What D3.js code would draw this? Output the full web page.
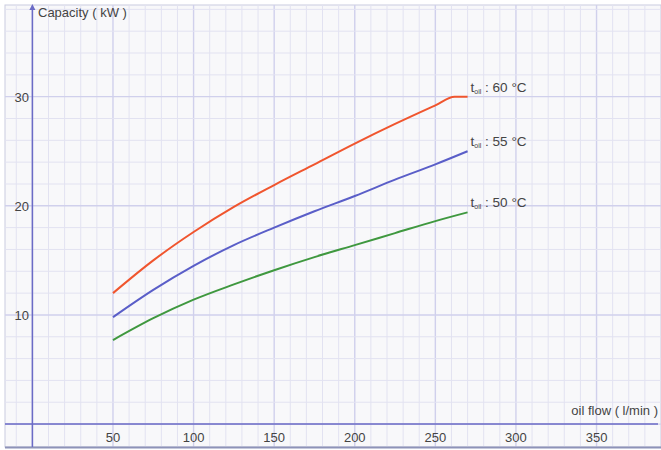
<!DOCTYPE html>
<html lang="en">
<head>
    <script src="https://d3js.org/d3.v7.min.js"></script>
    <style>
        body { margin: 0; background: #fff; }
        svg text { font-family: "Liberation Sans", Arial, sans-serif; fill: #444; }
    </style>
</head>
<body>
<script>
    // oil flow (l/min) and capacity (kW)
    var flow60 = [50, 75, 100, 125, 150, 175, 200, 225, 250, 262, 270];
    var cap60  = [12.0, 15.0, 17.6, 19.9, 21.9, 23.8, 25.7, 27.5, 29.2, 30.0, 30.0];
    var flow55 = [50, 75, 100, 125, 150, 175, 200, 225, 250, 270];
    var cap55  = [9.8, 12.3, 14.5, 16.4, 18.0, 19.5, 20.9, 22.4, 23.8, 25.0];
    var flow50 = [50, 75, 100, 125, 150, 175, 200, 225, 250, 270];
    var cap50  = [7.7, 9.7, 11.4, 12.8, 14.1, 15.3, 16.4, 17.5, 18.6, 19.4];
    var seriesNames = ["60 °C", "55 °C", "50 °C"];
    var seriesColors = ["#f0552e", "#5a5ec8", "#3f983f"];
    var xTicks = [50, 100, 150, 200, 250, 300, 350];
    var yTicks = [10, 20, 30];

    var width = 661, height = 450;

    var svg = d3.select("body").append("svg")
        .attr("width", width)
        .attr("height", height);

    var x = d3.scaleLinear().domain([-17, 390]).range([5, 661]);
    var y = d3.scaleLinear().domain([-2.1, 38.4]).range([447, 5]);

    // background panel
    svg.append("rect")
        .attr("x", 5).attr("y", 5)
        .attr("width", width - 5).attr("height", 442)
        .attr("fill", "#f8f8fa")
        .attr("stroke", "#c9cbe0");

    // grid
    var grid = svg.append("g");
    d3.range(-10, 390, 10).forEach(function(v) {
        grid.append("line")
            .attr("x1", x(v)).attr("x2", x(v))
            .attr("y1", 5).attr("y2", 447)
            .attr("stroke", v % 50 == 0 ? "#d0d0ec" : "#e2e2f1")
            .attr("stroke-width", v % 50 == 0 ? 1.4 : 1);
    });
    d3.range(0, 39, 2).forEach(function(v) {
        grid.append("line")
            .attr("x1", 5).attr("x2", width)
            .attr("y1", y(v)).attr("y2", y(v))
            .attr("stroke", v % 10 == 0 ? "#d0d0ec" : "#e2e2f1")
            .attr("stroke-width", v % 10 == 0 ? 1.4 : 1);
    });

    // bottom edge
    svg.append("line")
        .attr("x1", 5).attr("x2", width)
        .attr("y1", 447.5).attr("y2", 447.5)
        .attr("stroke", "#8e93b8").attr("stroke-width", 2);

    // axes
    var axisColor = "#6b6bc6";
    svg.append("line")
        .attr("x1", x(0)).attr("x2", x(0))
        .attr("y1", 447).attr("y2", 8)
        .attr("stroke", axisColor).attr("stroke-width", 1.5);
    svg.append("path")
        .attr("d", "M" + x(0) + ",4 l-3,6 h6 z")
        .attr("fill", axisColor);
    svg.append("line")
        .attr("x1", 5).attr("x2", 658)
        .attr("y1", y(0)).attr("y2", y(0))
        .attr("stroke", axisColor).attr("stroke-width", 1.5);

    svg.selectAll(".xt")
        .data(xTicks)
        .enter().append("text")
        .attr("x", function(d) { return x(d); })
        .attr("y", 442)
        .attr("text-anchor", "middle")
        .style("font-size", "13px")
        .text(function(d) { return d; });

    svg.selectAll(".yt")
        .data(yTicks)
        .enter().append("text")
        .attr("x", 29)
        .attr("y", function(d) { return y(d) + 5; })
        .attr("text-anchor", "end")
        .style("font-size", "13px")
        .text(function(d) { return d; });

    svg.append("text")
        .attr("x", 38).attr("y", 17)
        .style("font-size", "13px")
        .text("Capacity ( kW )");
    svg.append("text")
        .attr("x", 658).attr("y", 415)
        .attr("text-anchor", "end")
        .style("font-size", "13px")
        .text("oil flow ( l/min )");

    // curves
    var series = [
        { flow: flow60, cap: cap60 },
        { flow: flow55, cap: cap55 },
        { flow: flow50, cap: cap50 }
    ];
    var line = d3.line()
        .x(function(d) { return x(d[0]); })
        .y(function(d) { return y(d[1]); })
        .curve(d3.curveMonotoneX);

    series.forEach(function(s, i) {
        var pts = s.flow.map(function(f, j) { return [f, s.cap[j]]; });
        svg.append("path")
            .attr("d", line(pts))
            .attr("fill", "none")
            .attr("stroke", seriesColors[i])
            .attr("stroke-width", 2);

        var last = pts[pts.length - 1];
        var lab = svg.append("text")
            .attr("x", x(last[0]) + 3)
            .attr("y", y(last[1]) - 5)
            .style("font-size", "13.5px");
        lab.append("tspan").text("t");
        lab.append("tspan").attr("dy", 2).style("font-size", "7px").text("oil");
        lab.append("tspan").attr("dy", -2).text(" : " + seriesNames[i]);
    });
</script>
</body>
</html>
